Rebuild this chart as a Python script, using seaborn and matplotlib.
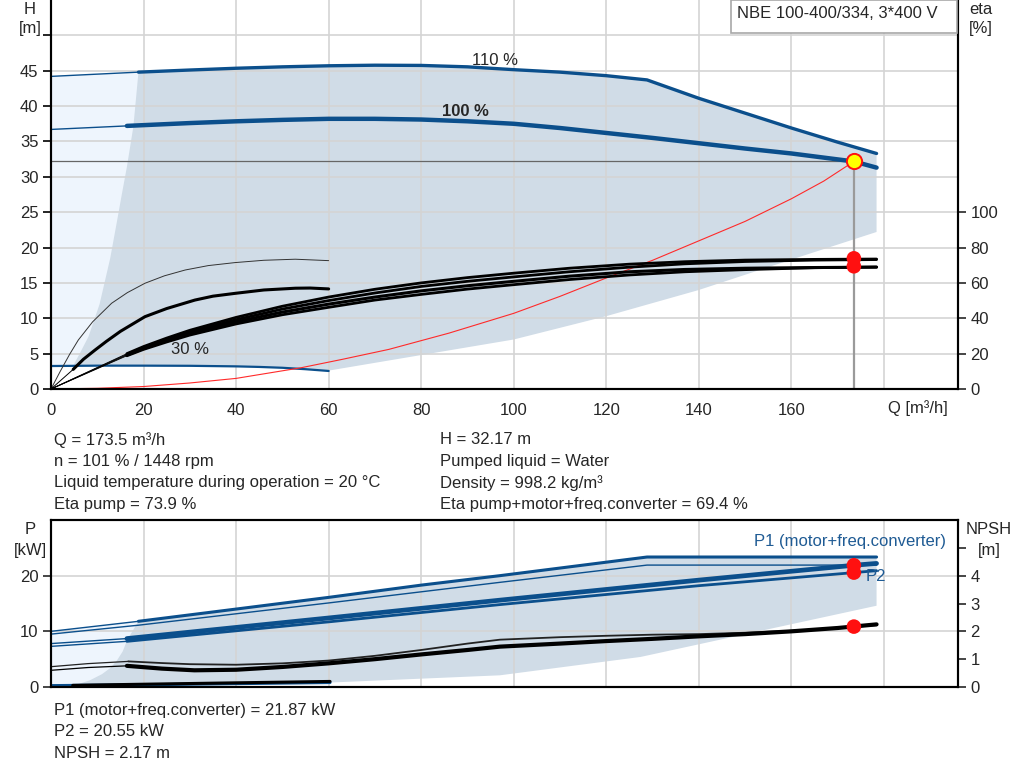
import matplotlib
matplotlib.use("Agg")
import matplotlib.pyplot as plt
import numpy as np
import pandas as pd
import seaborn as sns
from matplotlib.patches import Polygon, Rectangle

sns.set_style("white")
plt.rcParams['font.family'] = ['Liberation Sans', 'DejaVu Sans']
plt.rcParams['font.size'] = 12

# ---------------- data ----------------
# Operating point
op_q = 173.5
op_h = 32.17
op_eta_pump = 73.9
op_eta_total = 69.4
op_p1 = 21.87
op_p2 = 20.55
op_npsh = 2.17

# Head curves (H [m])
h110_q = [0, 18.9, 30, 40, 50, 60, 70, 80, 90, 100, 110, 120, 128.8, 140, 150, 160, 170, 178.4]
h110_h = [44.2, 44.8, 45.1, 45.35, 45.55, 45.7, 45.78, 45.75, 45.55, 45.15, 44.8, 44.3, 43.7,
          41.1, 39.0, 36.9, 34.9, 33.3]
h100_q = [0, 16.4, 30, 40, 50, 60, 70, 80, 90, 100, 110, 120, 130, 140, 150, 160, 173.5, 178.4]
h100_h = [36.7, 37.2, 37.6, 37.85, 38.05, 38.2, 38.2, 38.1, 37.85, 37.5, 36.9, 36.2, 35.5,
          34.75, 34.0, 33.3, 32.17, 31.3]
h30_q = [0, 10, 20, 30, 40, 45, 50, 55, 60]
h30_h = [3.25, 3.3, 3.3, 3.28, 3.2, 3.12, 3.0, 2.8, 2.55]

# Operating range (shaded) H-Q
range_left_q = [4.8, 6.2, 8.1, 10.5, 12.8, 14.2, 15.3, 16.4, 17.8, 18.9]
range_left_h = [3.3, 5.0, 7.4, 12.0, 18.5, 23.5, 27.5, 31.4, 37.1, 44.8]
range_low_q = [178.4, 160, 140, 120, 100, 80, 60]
range_low_h = [22.2, 18.3, 14.0, 10.3, 7.0, 4.8, 2.6]
light_h_q = [0, 0, 18.9, 18.9]
light_h_h = [3.25, 44.2, 44.8, 3.3]

# System curve
sys_q = [0, 10, 20, 30, 40, 54, 63, 73, 86, 100, 110, 120, 130, 138, 150, 160, 167, 173.5]
sys_h = [0, 0.1, 0.35, 0.85, 1.5, 3.0, 4.2, 5.6, 7.9, 10.7, 13.1, 15.7, 18.2, 20.4, 23.7,
         26.9, 29.4, 32.17]

# Efficiency curves (eta [%])
eta_thin_q = [0, 2, 4, 5.9, 9, 13.1, 16.5, 20.3, 24.5, 29, 34, 39.8, 46, 52.8, 60]
eta_thin_v = [0, 10, 19.5, 27.7, 38, 48.5, 54.5, 59.8, 64, 67.3, 69.8, 71.5, 72.8, 73.4, 72.6]
eta_low_q = [0, 4.8, 7, 9.5, 12, 15, 20.3, 25, 31.1, 35, 39.8, 46, 52.8, 56, 60]
eta_low_v = [0, 11.1, 16.8, 22, 27, 32.6, 40.9, 45.5, 50.3, 52.5, 54.1, 56, 57, 57.1, 56.6]
eta_q = [0, 16.4, 20, 25, 30, 40, 50, 60, 70, 80, 90, 100, 112, 125, 137, 150, 165, 178.4]
eta_1 = [0, 20.0, 24.0, 28.8, 33.2, 40.5, 46.8, 52.0, 56.4, 60.0, 63.0, 65.5, 68.3, 70.6,
         72.0, 72.9, 73.3, 73.5]
eta_2 = [0, 19.6, 23.4, 28.0, 32.2, 39.2, 45.2, 50.0, 54.3, 58.0, 60.9, 63.4, 66.3, 68.9,
         70.8, 72.1, 72.9, 73.2]
eta_3 = [0, 19.2, 22.9, 27.3, 31.3, 38.0, 43.5, 48.0, 52.0, 55.5, 58.4, 60.9, 63.8, 66.3,
         67.6, 68.3, 68.7, 68.9]
eta_4 = [0, 18.8, 22.4, 26.6, 30.5, 36.8, 42.0, 46.2, 50.3, 53.5, 56.5, 59.0, 61.9, 64.5,
         66.3, 67.5, 68.6, 69.0]

# Power curves (P [kW])
p110_q = [0, 18.9, 40, 60, 80, 97, 128.8, 178.4]
p1_110 = [10.0, 11.8, 14.0, 16.1, 18.3, 20.0, 23.35, 23.35]
p2_110_q = [0, 18.9, 60, 97, 128.8, 178.4]
p2_110 = [9.5, 11.1, 15.1, 18.8, 21.9, 21.9]
p100_q = [0, 16.4, 60, 97, 140, 173.5, 178.4]
p1_100 = [7.8, 8.7, 12.4, 15.6, 19.2, 21.87, 22.2]
p2_100 = [7.3, 8.2, 11.7, 14.8, 18.2, 20.55, 20.9]
p30_q = [0, 20, 40, 60.3]
p30_v = [0.25, 0.4, 0.6, 0.8]

# NPSH curves [m]
npsh_a_q = [0, 8, 16.7, 24, 30, 40, 50, 60, 70, 80, 90, 97, 110, 120, 130, 140, 150, 160, 170, 178.4]
npsh_a = [0.73, 0.84, 0.92, 0.86, 0.82, 0.8, 0.85, 0.95, 1.12, 1.33, 1.56, 1.7, 1.79, 1.84,
          1.88, 1.9, 1.95, 2.02, 2.12, 2.22]
npsh_b_q = [0, 8, 16.4, 24, 31, 40, 50, 60, 70, 80, 90, 97, 110, 120, 130, 140, 150, 160, 170, 178.4]
npsh_b = [0.6, 0.7, 0.76, 0.66, 0.6, 0.62, 0.72, 0.85, 1.0, 1.17, 1.33, 1.45, 1.56, 1.65,
          1.73, 1.82, 1.9, 2.0, 2.12, 2.25]
npsh30_q = [4.7, 20, 40, 60.3]
npsh30 = [0.06, 0.1, 0.15, 0.2]

# Operating range (shaded) P-Q
rangep_left_q = [4.7, 5.8, 8.4, 11, 12.8, 14.2, 15.5, 16.4, 17.8, 18.9]
rangep_left_v = [0.3, 0.5, 1.2, 2.3, 3.4, 4.7, 6.4, 8.3, 10.3, 11.8]
rangep_low_q = [178.4, 127.4, 97, 60.3, 40, 20, 4.7]
rangep_low_v = [14.6, 5.4, 2.1, 0.8, 0.6, 0.4, 0.3]
light_p_q = [0, 0, 18.9, 18.9]
light_p_v = [0.0, 10.0, 11.8, 0.0]

# ---------------- style ----------------
BLUE = "#0b4f8c"
LBLUE_TXT = "#1f5b94"
SHADE = "#d0dce7"
LIGHT = "#eef5fd"
GRID = "#d4d4d4"
FS = 12
W, H = 1024, 781

fig = plt.figure(figsize=(10.24, 7.81), dpi=100)
ax = fig.add_axes([51 / W, 1 - 389 / H, 907 / W, 389 / H])
axb = fig.add_axes([51 / W, 1 - 687 / H, 907 / W, 167 / H])


def line(a, q, v, color, lw, z=2, alpha=1.0):
    sns.lineplot(x=q, y=v, ax=a, color=color, linewidth=lw, estimator=None,
                 sort=False, legend=False, zorder=z, alpha=alpha)


def split_line(a, q, v, split, color, lw_thin, lw_thick, z=2):
    q = np.asarray(q, float)
    v = np.asarray(v, float)
    i = int(np.searchsorted(q, split))
    line(a, q[:i + 1], v[:i + 1], color, lw_thin, z)
    line(a, q[i:], v[i:], color, lw_thick, z)


for a in (ax, axb):
    a.set_xlim(0, 196)
    a.set_xticks(np.arange(0, 181, 20))
    a.set_axisbelow(True)
    a.grid(True, color=GRID, linewidth=1.2)
    a.set_facecolor("white")

# ---------------- top chart ----------------
ax.set_ylim(0, 55)
ax.set_yticks(np.arange(0, 51, 5))
ax.set_yticklabels([str(v) if v < 50 else "" for v in range(0, 51, 5)])
ax.set_xticklabels([str(v) if v < 180 else "" for v in range(0, 181, 20)])

ax.add_patch(Polygon(np.column_stack([light_h_q, light_h_h]), closed=True,
                     facecolor=LIGHT, edgecolor="none", zorder=0.1))
shade_q = range_left_q + h110_q[2:] + range_low_q + h30_q[::-1][1:] + [4.8]
shade_h = range_left_h + h110_h[2:] + range_low_h + h30_h[::-1][1:] + [3.3]
ax.add_patch(Polygon(np.column_stack([shade_q, shade_h]), closed=True,
                     facecolor=SHADE, edgecolor="none", zorder=0.2))

split_line(ax, h110_q, h110_h, 18.9, BLUE, 1.0, 2.4)
split_line(ax, h100_q, h100_h, 16.4, BLUE, 1.0, 3.2)
line(ax, h30_q, h30_h, BLUE, 1.6)
line(ax, sys_q, sys_h, "#ff2a2a", 0.8, z=2.5)

# operating point guides
line(ax, [0, op_q], [op_h, op_h], "#666666", 0.9, z=1.5)
line(ax, [op_q, op_q], [0, op_h], "#9a9a9a", 1.6, z=1.5)

ax.text(96, 46.5, "110 %", ha="center", va="center", fontsize=FS)
ax.text(89.5, 39.2, "100 %", ha="center", va="center", fontsize=FS, fontweight="bold")
ax.text(30, 5.6, "30 %", ha="center", va="center", fontsize=FS)

ax_eta = ax.twinx()
ax_eta.set_ylim(0, 220)
ax_eta.set_yticks(np.arange(0, 101, 20))
line(ax_eta, eta_thin_q, eta_thin_v, "#333333", 0.7)
split_line(ax_eta, eta_low_q, eta_low_v, 4.8, "black", 0.7, 2.2)
for ev, lw in ((eta_1, 2.0), (eta_2, 2.0), (eta_3, 2.2), (eta_4, 2.0)):
    split_line(ax_eta, eta_q, ev, 16.4, "black", 0.6, lw)

sns.scatterplot(x=[op_q, op_q], y=[op_eta_pump, op_eta_total], ax=ax_eta, color="#ff1010",
                s=110, edgecolor="none", zorder=5, legend=False)
sns.scatterplot(x=[op_q], y=[op_h], ax=ax, color="#ffff00", s=120, edgecolor="#ff1010",
                linewidth=1.4, zorder=6, legend=False)

for a in (ax, ax_eta):
    a.set_xlabel("")
    a.set_ylabel("")
    a.spines["top"].set_visible(False)
    for s in ("left", "bottom", "right"):
        a.spines[s].set_color("black")
        a.spines[s].set_linewidth(1.5)
ax.tick_params(axis="both", direction="out", length=6, width=1.2, labelsize=FS, color="black", pad=3)
ax.tick_params(axis="x", length=7)
ax_eta.tick_params(axis="y", direction="out", length=6, width=1.2, labelsize=FS, pad=3)

# ---------------- bottom chart ----------------
axb.set_ylim(0, 30)
axb.set_yticks([0, 10, 20])
axb.tick_params(axis="x", length=0, labelbottom=False)
axb.tick_params(axis="y", direction="out", length=6, width=1.2, labelsize=FS, pad=3)

axb.add_patch(Polygon(np.column_stack([light_p_q, light_p_v]), closed=True,
                      facecolor=LIGHT, edgecolor="none", zorder=0.1))
shp_q = rangep_left_q + p110_q[2:] + rangep_low_q
shp_v = rangep_left_v + p1_110[2:] + rangep_low_v
axb.add_patch(Polygon(np.column_stack([shp_q, shp_v]), closed=True,
                      facecolor=SHADE, edgecolor="none", zorder=0.2))

split_line(axb, p110_q, p1_110, 18.9, BLUE, 1.0, 2.2)
line(axb, p2_110_q, p2_110, BLUE, 1.0)
split_line(axb, p100_q, p1_100, 16.4, BLUE, 1.0, 3.4)
split_line(axb, p100_q, p2_100, 16.4, BLUE, 1.0, 2.0)
line(axb, p30_q, p30_v, BLUE, 2.2)

axb_n = axb.twinx()
axb_n.set_ylim(0, 6)
axb_n.set_yticks([0, 1, 2, 3, 4, 5])
axb_n.set_yticklabels(["0", "1", "2", "3", "4", ""])
axb_n.tick_params(axis="y", direction="out", length=6, width=1.2, labelsize=FS, pad=3)
split_line(axb_n, npsh_a_q, npsh_a, 16.7, "#222222", 0.9, 1.3)
split_line(axb_n, npsh_b_q, npsh_b, 16.4, "black", 0.9, 3.0)
line(axb_n, npsh30_q, npsh30, "black", 2.2)

sns.scatterplot(x=[op_q, op_q], y=[op_p1, op_p2], ax=axb, color="#ff1010", s=110,
                edgecolor="none", zorder=5, legend=False)
sns.scatterplot(x=[op_q], y=[op_npsh], ax=axb_n, color="#ff1010", s=110,
                edgecolor="none", zorder=5, legend=False)

axb.text(193.5, 26.2, "P1 (motor+freq.converter)", ha="right", va="center",
         color=LBLUE_TXT, fontsize=FS)
axb.text(176.0, 19.8, "P2", ha="left", va="center", color=LBLUE_TXT, fontsize=FS)

for a in (axb, axb_n):
    a.set_xlabel("")
    a.set_ylabel("")
    for s in ("left", "bottom", "right", "top"):
        a.spines[s].set_visible(True)
        a.spines[s].set_color("black")
        a.spines[s].set_linewidth(1.5)

# ---------------- axis titles & texts ----------------
def ftxt(x, y, s, **kw):
    fig.text(x / W, 1 - y / H, s, fontsize=FS, **kw)

ftxt(30, 9, "H", ha="center", va="center")
ftxt(30, 29, "[m]", ha="center", va="center")
ftxt(981, 9, "eta", ha="center", va="center")
ftxt(981, 29, "[%]", ha="center", va="center")
ftxt(918, 408, "Q [m³/h]", ha="center", va="center")
ftxt(30, 530, "P", ha="center", va="center")
ftxt(30, 550, "[kW]", ha="center", va="center")
ftxt(989, 530, "NPSH", ha="center", va="center")
ftxt(989, 550, "[m]", ha="center", va="center")

fig.patches.append(Rectangle((731 / W, 1 - 33 / H), 226 / W, 33 / H, transform=fig.transFigure,
                             facecolor="white", edgecolor="#a8a8a8", linewidth=1.2, zorder=10))
ftxt(737, 14, "NBE 100-400/334, 3*400 V", ha="left", va="center", zorder=11)

left_info = [f"Q = {op_q} m³/h", "n = 101 % / 1448 rpm",
             "Liquid temperature during operation = 20 °C", f"Eta pump = {op_eta_pump} %"]
right_info = [f"H = {op_h} m", "Pumped liquid = Water", "Density = 998.2 kg/m³",
              f"Eta pump+motor+freq.converter = {op_eta_total} %"]
ys = [440, 461.5, 483, 504]
for y, l, r in zip(ys, left_info, right_info):
    ftxt(54, y, l, ha="left", va="center")
    ftxt(440, y, r, ha="left", va="center")

bottom_info = [f"P1 (motor+freq.converter) = {op_p1} kW", f"P2 = {op_p2} kW", f"NPSH = {op_npsh} m"]
for y, t in zip([711, 732, 753], bottom_info):
    ftxt(54, y, t, ha="left", va="center")

fig.savefig("out.png", dpi=100)
